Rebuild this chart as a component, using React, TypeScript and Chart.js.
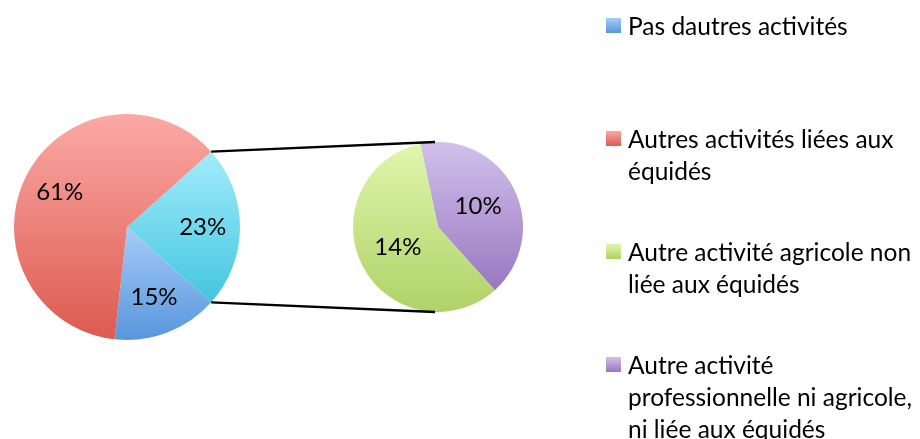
import { useEffect, useRef } from "react";
import { Chart, registerables } from "chart.js";

Chart.register(...registerables);

const CATEGORIES = [
  "Pas dautres activités",
  "Autres activités liées aux équidés",
  "Autre activité agricole non liée aux équidés",
  "Autre activité professionnelle ni agricole, ni liée aux équidés",
];

// Main pie: [combined "other" slice, Pas dautres activités, Autres activités liées aux équidés]
const MAIN_LABELS = ["Autres", CATEGORIES[0], CATEGORIES[1]];
const MAIN_VALUES = [23, 15, 61];
// Secondary pie: [Autre activité professionnelle..., Autre activité agricole...]
const SECOND_LABELS = [CATEGORIES[3], CATEGORIES[2]];
const SECOND_VALUES = [10, 14];

const LEGEND_LINES = [
  ["Pas dautres activités"],
  ["Autres activités liées aux", "équidés"],
  ["Autre activité agricole non", "liée aux équidés"],
  ["Autre activité", "professionnelle ni agricole,", "ni liée aux équidés"],
];

// gradient colours [top, bottom]
const C_BLUE = ["#A6CBF8", "#5896DC"];
const C_RED = ["#FBA9A5", "#DD5A4F"];
const C_CYAN = ["#A2ECFB", "#43C5DF"];
const C_GREEN = ["#DFF6AD", "#B0D267"];
const C_PURPLE = ["#D2C0EB", "#9878C1"];

const MAIN_COLORS = [C_CYAN, C_BLUE, C_RED];
const SECOND_COLORS = [C_PURPLE, C_GREEN];
const LEGEND_COLORS = [C_BLUE, C_RED, C_GREEN, C_PURPLE];

const FONT = "Lato, 'Open Sans', sans-serif";

function sliceGradient(chart: any, values: number[], index: number, rotationDeg: number, colors: string[][]) {
  const area = chart.chartArea;
  const pair = colors[index];
  if (!area) return pair[1];
  const cx = (area.left + area.right) / 2;
  const cy = (area.top + area.bottom) / 2;
  const r = Math.min(area.right - area.left, area.bottom - area.top) / 2;
  const total = values.reduce((a, b) => a + b, 0);
  let cum = 0;
  for (let i = 0; i < index; i++) cum += values[i];
  const start = -Math.PI / 2 + (rotationDeg * Math.PI) / 180 + (cum / total) * Math.PI * 2;
  const end = start + (values[index] / total) * Math.PI * 2;
  let minY = cy;
  let maxY = cy;
  for (let k = 0; k <= 96; k++) {
    const a = start + ((end - start) * k) / 96;
    const y = cy + r * Math.sin(a);
    if (y < minY) minY = y;
    if (y > maxY) maxY = y;
  }
  const g = chart.ctx.createLinearGradient(0, minY, 0, maxY);
  g.addColorStop(0, pair[0]);
  g.addColorStop(1, pair[1]);
  return g;
}

function labelPlugin(fraction: number) {
  return {
    id: "sliceLabels",
    afterDatasetsDraw(chart: any) {
      const ctx = chart.ctx;
      const meta = chart.getDatasetMeta(0);
      const values = chart.data.datasets[0].data as number[];
      ctx.save();
      ctx.font = `24px ${FONT}`;
      ctx.fillStyle = "#000";
      ctx.textAlign = "center";
      ctx.textBaseline = "middle";
      meta.data.forEach((el: any, i: number) => {
        const p = el.getProps(["x", "y", "startAngle", "endAngle", "outerRadius"], true);
        const mid = (p.startAngle + p.endAngle) / 2;
        const x = p.x + Math.cos(mid) * p.outerRadius * fraction;
        const y = p.y + Math.sin(mid) * p.outerRadius * fraction;
        ctx.fillText(`${values[i]}%`, x, y);
      });
      ctx.restore();
    },
  };
}

export default function App() {
  const mainRef = useRef<HTMLCanvasElement>(null);
  const secondRef = useRef<HTMLCanvasElement>(null);

  useEffect(() => {
    const mainTotal = MAIN_VALUES.reduce((a, b) => a + b, 0);
    const mainRotation = 90 - ((MAIN_VALUES[0] / mainTotal) * 360) / 2;
    const secondRotation = -12;

    const main = new Chart(mainRef.current!, {
      type: "pie",
      data: {
        labels: MAIN_LABELS,
        datasets: [
          {
            data: MAIN_VALUES,
            borderWidth: 0,
            backgroundColor: (c: any) =>
              sliceGradient(c.chart, MAIN_VALUES, c.dataIndex, mainRotation, MAIN_COLORS),
          },
        ],
      },
      options: {
        responsive: false,
        animation: false,
        rotation: mainRotation,
        layout: { padding: { left: 14, top: 114, right: 680, bottom: 99 } },
        plugins: { legend: { display: false }, tooltip: { enabled: false } },
        events: [],
      },
      plugins: [labelPlugin(0.67)],
    });

    const connector = {
      id: "connector",
      afterDraw(chart: any) {
        const ctx = chart.ctx;
        const m = main.getDatasetMeta(0).data[0] as any;
        const mp = m.getProps(["x", "y", "startAngle", "endAngle", "outerRadius"], true);
        const s = chart.getDatasetMeta(0).data[0] as any;
        const sp = s.getProps(["x", "y", "outerRadius"], true);
        const topA = (-92 * Math.PI) / 180;
        const botA = (92 * Math.PI) / 180;
        ctx.save();
        ctx.strokeStyle = "#000";
        ctx.lineWidth = 2.4;
        ctx.beginPath();
        ctx.moveTo(mp.x + mp.outerRadius * Math.cos(mp.startAngle), mp.y + mp.outerRadius * Math.sin(mp.startAngle));
        ctx.lineTo(sp.x + sp.outerRadius * Math.cos(topA), sp.y + sp.outerRadius * Math.sin(topA));
        ctx.moveTo(mp.x + mp.outerRadius * Math.cos(mp.endAngle), mp.y + mp.outerRadius * Math.sin(mp.endAngle));
        ctx.lineTo(sp.x + sp.outerRadius * Math.cos(botA), sp.y + sp.outerRadius * Math.sin(botA));
        ctx.stroke();
        ctx.restore();
      },
    };

    const second = new Chart(secondRef.current!, {
      type: "pie",
      data: {
        labels: SECOND_LABELS,
        datasets: [
          {
            data: SECOND_VALUES,
            borderWidth: 0,
            backgroundColor: (c: any) =>
              sliceGradient(c.chart, SECOND_VALUES, c.dataIndex, secondRotation, SECOND_COLORS),
          },
        ],
      },
      options: {
        responsive: false,
        animation: false,
        rotation: secondRotation,
        layout: { padding: { left: 353, top: 142, right: 397, bottom: 127 } },
        plugins: { legend: { display: false }, tooltip: { enabled: false } },
        events: [],
      },
      plugins: [labelPlugin(0.53), connector],
    });

    return () => {
      second.destroy();
      main.destroy();
    };
  }, []);

  const canvasStyle: React.CSSProperties = { position: "absolute", left: 0, top: 0 };

  return (
    <div
      style={{
        position: "absolute",
        left: 0,
        top: 0,
        width: 920,
        height: 439,
        overflow: "hidden",
        background: "#fff",
      }}
    >
      <canvas ref={mainRef} width={920} height={439} style={canvasStyle} />
      <canvas ref={secondRef} width={920} height={439} style={canvasStyle} />
      {LEGEND_LINES.map((lines, i) => {
        const top = 10 + i * 113;
        const col = LEGEND_COLORS[i];
        return (
          <div key={i} style={{ position: "absolute", left: 0, top, width: 920 }}>
            <div
              style={{
                position: "absolute",
                left: 606,
                top: 8,
                width: 15,
                height: 15,
                background: `linear-gradient(${col[0]}, ${col[1]})`,
              }}
            />
            <div
              style={{
                position: "absolute",
                left: 628,
                top: 0,
                fontFamily: FONT,
                fontSize: 24.5,
                lineHeight: "32px",
                color: "#000",
                whiteSpace: "nowrap",
              }}
            >
              {lines.map((l, j) => (
                <div key={j}>{l}</div>
              ))}
            </div>
          </div>
        );
      })}
    </div>
  );
}
